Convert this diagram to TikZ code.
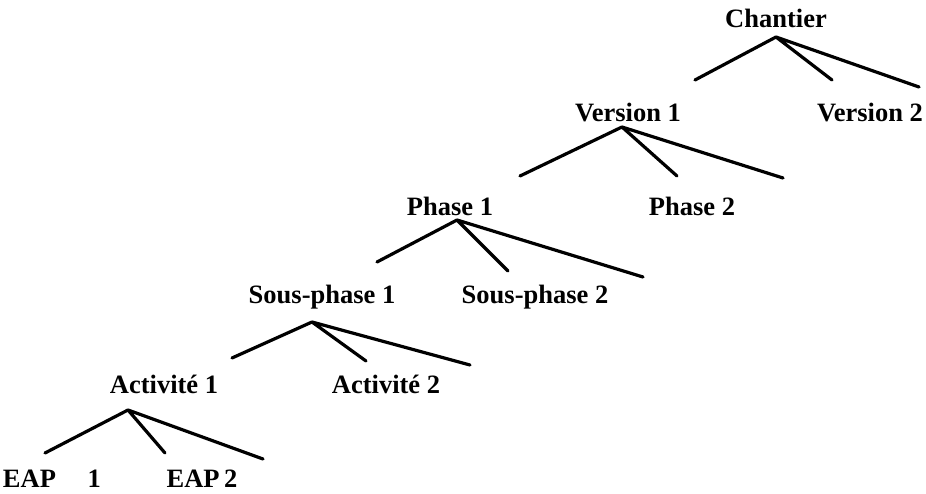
\documentclass[tikz,border=0pt]{standalone}
\usepackage{fontspec}
\setmainfont{Liberation Serif}
\begin{document}
\begin{tikzpicture}[x=1pt,y=-1pt,
  lbl/.style={font=\bfseries\fontsize{26.5}{30}\selectfont, inner sep=0pt, anchor=center},
  branch/.style={line width=3.2pt, line cap=round}]
\useasboundingbox (0,0) rectangle (926,494);
% labels
\node[lbl] (chantier) at (776,18) {Chantier};
\node[lbl] (v1) at (628,113) {Version 1};
\node[lbl] (v2) at (870,113) {Version 2};
\node[lbl] (p1) at (450,206) {Phase 1};
\node[lbl] (p2) at (692,206) {Phase 2};
\node[lbl] (sp1) at (322,297) {Sous-phase 1};
\node[lbl] (sp2) at (535,297) {Sous-phase 2};
\node[lbl] (a1) at (164,384) {Activité 1};
\node[lbl] (a2) at (386,384) {Activité 2};
\node[lbl] (eap1) at (52,479) {EAP\hspace{1.2em}1};
\node[lbl] (eap2) at (202,479) {EAP\,2};
% apexes
\coordinate (ca) at (776,37);
\coordinate (va) at (622,127);
\coordinate (pa) at (457,220);
\coordinate (sa) at (312,322);
\coordinate (aa) at (128,410);
% free ends
\coordinate (c1) at (695,80);  \coordinate (c2) at (832,80);  \coordinate (c3) at (919,87);
\coordinate (v1e) at (520,176); \coordinate (v2e) at (677,176); \coordinate (v3e) at (783,178);
\coordinate (p1e) at (377,262); \coordinate (p2e) at (508,271); \coordinate (p3e) at (643,277);
\coordinate (s1e) at (232,358); \coordinate (s2e) at (366,361); \coordinate (s3e) at (470,365);
\coordinate (a1e) at (45,453);  \coordinate (a2e) at (165,453); \coordinate (a3e) at (263,459);
% branches
\draw[branch] (ca) -- (c1) (ca) -- (c2) (ca) -- (c3);
\draw[branch] (va) -- (v1e) (va) -- (v2e) (va) -- (v3e);
\draw[branch] (pa) -- (p1e) (pa) -- (p2e) (pa) -- (p3e);
\draw[branch] (sa) -- (s1e) (sa) -- (s2e) (sa) -- (s3e);
\draw[branch] (aa) -- (a1e) (aa) -- (a2e) (aa) -- (a3e);
\end{tikzpicture}
\end{document}
